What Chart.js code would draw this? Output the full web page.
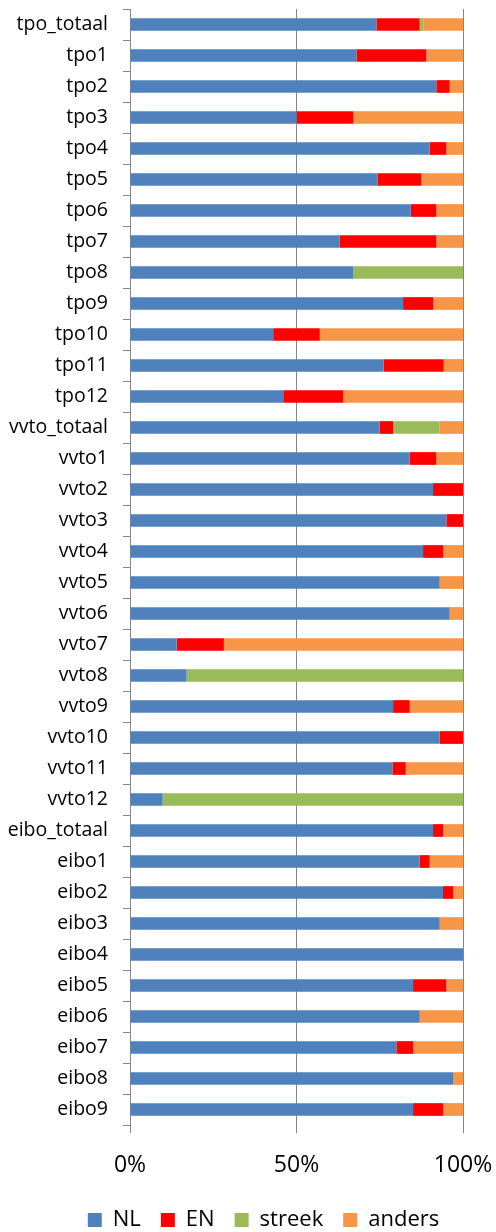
<!DOCTYPE html>
<html>
<head>
<meta charset="utf-8">
<script src="https://cdn.jsdelivr.net/npm/chart.js@4"></script>
<style>
  html, body { margin: 0; padding: 0; background: #fff; }
  #wrap { width: 496px; height: 1232px; }
</style>
</head>
<body>
<div id="wrap"><canvas id="chart"></canvas></div>
<script>
// categories (top to bottom)
const categories = [
  "tpo_totaal", "tpo1", "tpo2", "tpo3", "tpo4", "tpo5", "tpo6", "tpo7", "tpo8",
  "tpo9", "tpo10", "tpo11", "tpo12",
  "vvto_totaal", "vvto1", "vvto2", "vvto3", "vvto4", "vvto5", "vvto6", "vvto7",
  "vvto8", "vvto9", "vvto10", "vvto11", "vvto12",
  "eibo_totaal", "eibo1", "eibo2", "eibo3", "eibo4", "eibo5", "eibo6", "eibo7",
  "eibo8", "eibo9"
]

// shares per language, in percent
const nl = [74, 68, 92, 50, 90, 74.4, 84.3, 63, 67, 82, 43, 76.2, 46,
  75, 84, 91, 95, 88, 93, 96, 14, 17, 79, 93, 78.8, 9.8,
  91, 87, 94, 93, 100, 85, 87, 80, 97, 85]
const en = [13, 21, 4, 17, 5, 13, 7.7, 29, 0, 9, 14, 18, 18,
  4, 8, 9, 5, 6, 0, 0, 14.2, 0, 5, 7, 4, 0,
  3, 3, 3, 0, 0, 10, 0, 5, 0, 9]
const streek = [1.2, 0, 0, 0, 0, 0, 0, 0, 33, 0, 0, 0, 0,
  14, 0, 0, 0, 0, 0, 0, 0, 83, 0, 0, 0, 90.2,
  0, 0, 0, 0, 0, 0, 0, 0, 0, 0]
const anders = [11.8, 11, 4, 33, 5, 12.6, 8, 8, 0, 9, 43, 5.8, 36,
  7, 8, 0, 0, 6, 7, 4, 71.8, 0, 16, 0, 17.2, 0,
  6, 10, 3, 7, 0, 5, 13, 15, 3, 6]

const xTicks = [0, 50, 100]

const axisGray = "#868686"
const font = "'Open Sans', 'DejaVu Sans', sans-serif"

const mkSet = (label, data, color) => ({
  label: label,
  data: data,
  backgroundColor: color,
  borderWidth: 0,
  barPercentage: 0.41,
  categoryPercentage: 1.0
})

// nudge the legend to where the original sits (slightly right of centre)
const legendPlace = {
  id: "legendPlace",
  afterLayout(chart) {
    let lg = chart.legend
    if (!lg) return
    let h = lg.bottom - lg.top
    lg.left += 32
    lg.right += 32
    lg.top = 1189
    lg.bottom = 1189 + h
  }
}

let ctx = document.getElementById("chart").getContext("2d")
let chart = new Chart(ctx, {
  type: "bar",
  data: {
    labels: categories,
    datasets: [
      mkSet("NL", nl, "#4F81BD"),
      mkSet("EN", en, "#FF0000"),
      mkSet("streek", streek, "#9BBB59"),
      mkSet("anders", anders, "#F79646")
    ]
  },
  plugins: [legendPlace],
  options: {
    indexAxis: "y",
    responsive: true,
    maintainAspectRatio: false,
    animation: false,
    layout: {
      padding: { top: 9, left: 0, right: 33, bottom: 5 }
    },
    scales: {
      x: {
        stacked: true,
        min: 0,
        max: 100,
        afterBuildTicks: (scale) => { scale.ticks = xTicks.map(v => ({ value: v })) },
        afterFit: (scale) => {
          scale.height = 50
          scale.paddingLeft = 0
          scale.paddingRight = 0
        },
        ticks: {
          callback: (v) => v + "%",
          color: "#000",
          font: { family: font, size: 23 },
          padding: 19,
          maxRotation: 0
        },
        grid: { color: axisGray, lineWidth: 1, tickLength: 8, drawTicks: true },
        border: { display: false }
      },
      y: {
        stacked: true,
        afterFit: (scale) => {
          scale.width = 130
          scale.paddingTop = 0
          scale.paddingBottom = 0
        },
        ticks: {
          color: "#000",
          font: { family: font, size: 19.5 },
          padding: 15,
          autoSkip: false
        },
        grid: {
          offset: true,
          drawOnChartArea: false,
          drawTicks: true,
          tickLength: 7,
          color: axisGray
        },
        border: { display: true, color: axisGray, width: 1 }
      }
    },
    plugins: {
      legend: {
        position: "bottom",
        labels: {
          boxWidth: 14,
          boxHeight: 14,
          padding: 20,
          color: "#000",
          font: { family: font, size: 22 }
        }
      },
      tooltip: { enabled: false }
    }
  }
})
</script>
</body>
</html>
